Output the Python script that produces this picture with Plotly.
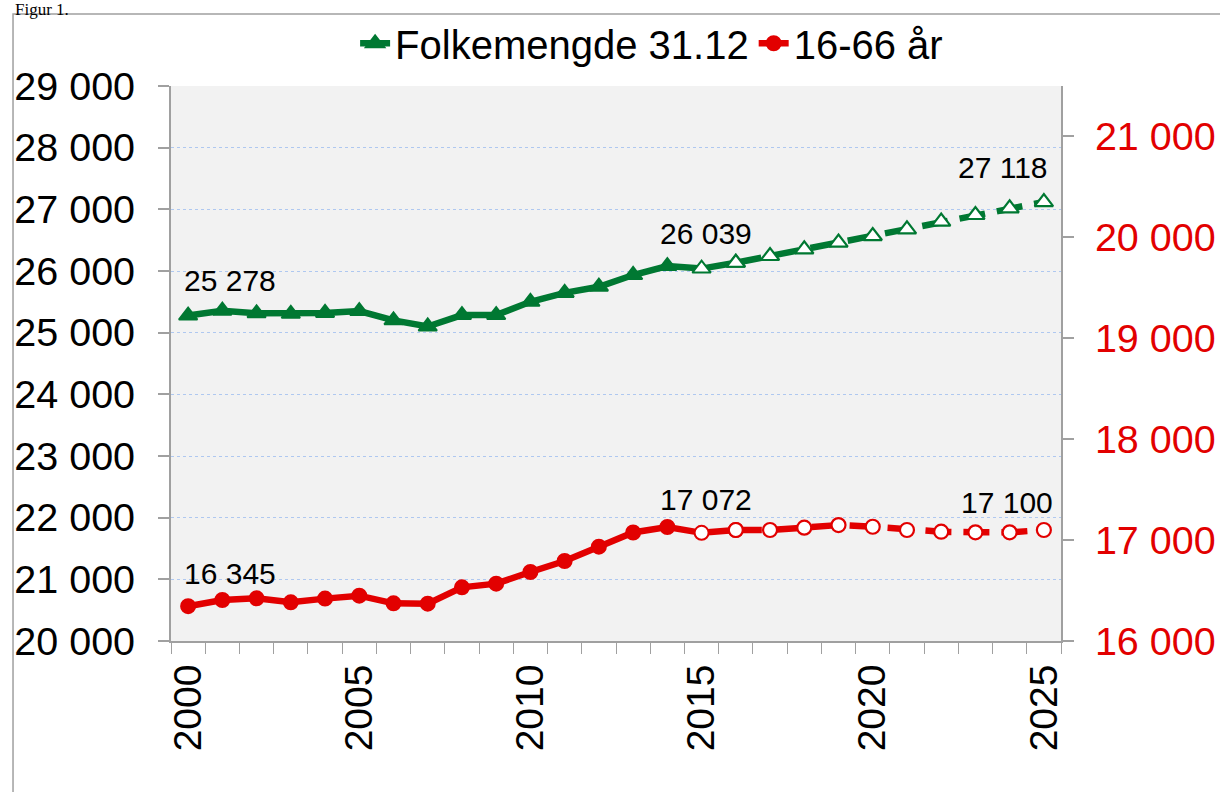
import plotly.graph_objects as go

years = list(range(2000, 2026))
folkemengde = [25278, 25356, 25313, 25305, 25320, 25350, 25200, 25100, 25285, 25285,
               25500, 25645, 25745, 25935, 26080, 26039, 26134, 26243, 26351, 26460,
               26567, 26675, 26800, 26908, 27016, 27118]
alder_16_66 = [16345, 16406, 16423, 16383, 16420, 16449, 16373, 16370, 16532, 16568,
               16684, 16793, 16935, 17075, 17130, 17072, 17100, 17100, 17123, 17149,
               17132, 17100, 17083, 17077, 17077, 17100]
tick_years = [2000, 2005, 2010, 2015, 2020, 2025]
label_years = [2000, 2015, 2025]
left_ticks = list(range(20000, 30000, 1000))
right_ticks = list(range(16000, 22000, 1000))

GREEN = "rgb(0,120,50)"
RED = "rgb(226,0,0)"
FONT = "Liberation Sans, Arial, sans-serif"

last_solid = 2016   # solid line up to here
first_proj = 2015   # hollow markers from here

def split(vals):
    i_s = years.index(last_solid)
    return years[: i_s + 1], vals[: i_s + 1], years[i_s:], vals[i_s:]

fig = go.Figure()

def add_series(vals, name, color, symbol, size, yaxis):
    xs, ys, xd, yd = split(vals)
    fill = [color if y < first_proj else "white" for y in xs]
    fig.add_trace(go.Scatter(
        x=xs, y=ys, name=name, yaxis=yaxis, mode="lines+markers",
        line=dict(color=color, width=6.5),
        marker=dict(symbol=symbol, size=size, color=fill,
                    line=dict(color=color, width=2)),
        showlegend=True,
    ))
    fig.add_trace(go.Scatter(
        x=xd, y=yd, name=name, yaxis=yaxis, mode="lines+markers",
        line=dict(color=color, width=6.5, dash="26px,12px"),
        marker=dict(symbol=symbol, size=size, color="white",
                    line=dict(color=color, width=2.2)),
        showlegend=False,
    ))

add_series(folkemengde, "Folkemengde 31.12", GREEN, "triangle-up", 16, "y")
add_series(alder_16_66, "16-66 år", RED, "circle", 14, "y2")

def fmt(v):
    return f"{v:,}".replace(",", " ")

anchors = {2000: ("left", -6), 2015: ("center", 4), 2025: ("right", 6)}
for yr in label_years:
    i = years.index(yr)
    xa, xs = anchors[yr]
    fig.add_annotation(x=yr, y=folkemengde[i], yref="y", text=fmt(folkemengde[i]),
                       showarrow=False, xanchor=xa, xshift=xs, yanchor="middle", yshift=35,
                       font=dict(family=FONT, size=30, color="black"))
    xs2 = 11 if yr == 2025 else xs
    ys2 = 28 if yr == 2025 else 33
    fig.add_annotation(x=yr, y=alder_16_66[i], yref="y2", text=fmt(alder_16_66[i]),
                       showarrow=False, xanchor=xa, xshift=xs2, yanchor="middle", yshift=ys2,
                       font=dict(family=FONT, size=30, color="black"))

fig.add_annotation(text="Figur 1.", xref="paper", yref="paper", x=-0.1775, y=1.158,
                   xanchor="left", yanchor="top", showarrow=False,
                   font=dict(family="Liberation Serif, Times New Roman, serif", size=17, color="black"))

# outer frame
fig.add_shape(type="rect", xref="paper", yref="paper",
              x0=-0.1775, x1=1.2, y0=-0.3, y1=1.1297,
              line=dict(color="rgb(160,160,160)", width=1.5), fillcolor="rgba(0,0,0,0)", layer="below")

AX = "rgb(160,160,160)"
fig.update_layout(
    width=1220, height=792,
    margin=dict(l=171, r=159, t=86, b=151, autoexpand=False),
    paper_bgcolor="white", plot_bgcolor="rgb(242,242,242)",
    separators=", ",
    font=dict(family=FONT, color="black"),
    showlegend=True,
    legend=dict(orientation="h", x=0.54, xanchor="center", y=1.077, yanchor="middle",
                font=dict(family=FONT, size=40, color="black"), bgcolor="rgba(0,0,0,0)",
                itemwidth=30, tracegroupgap=0),
    xaxis=dict(range=[1999.5, 2025.5], tickvals=tick_years, ticktext=[str(t) for t in tick_years],
               tickangle=-90, ticks="", showgrid=False, zeroline=False, automargin=False,
               showline=True, linecolor=AX, linewidth=2,
               tickfont=dict(family=FONT, size=39, color="black"),
               ticklabelstandoff=6,
               minor=dict(tick0=1999.5, dtick=1, ticks="outside", ticklen=11,
                          tickcolor=AX, tickwidth=1, showgrid=False)),
    yaxis=dict(range=[20000, 29000], tickvals=left_ticks, tickformat=",d", automargin=False,
               ticks="outside", ticklen=11, tickcolor=AX, tickwidth=1.5,
               showline=True, linecolor=AX, linewidth=2, zeroline=False,
               showgrid=True, gridcolor="rgb(175,200,240)", gridwidth=1, griddash="dot",
               tickfont=dict(family=FONT, size=39.5, color="black"), ticklabelstandoff=15),
    yaxis2=dict(range=[16000, 21500], tickvals=right_ticks, tickformat=",d", automargin=False,
                overlaying="y", side="right", anchor="x",
                ticks="outside", ticklen=11, tickcolor=AX, tickwidth=1.5,
                showline=True, linecolor=AX, linewidth=2, zeroline=False, showgrid=False,
                tickfont=dict(family=FONT, size=39.5, color=RED), ticklabelstandoff=13),
)

fig.write_html("out.html", config={"displayModeBar": False},
               post_script="document.body.style.margin='0';document.body.style.overflow='hidden';")
